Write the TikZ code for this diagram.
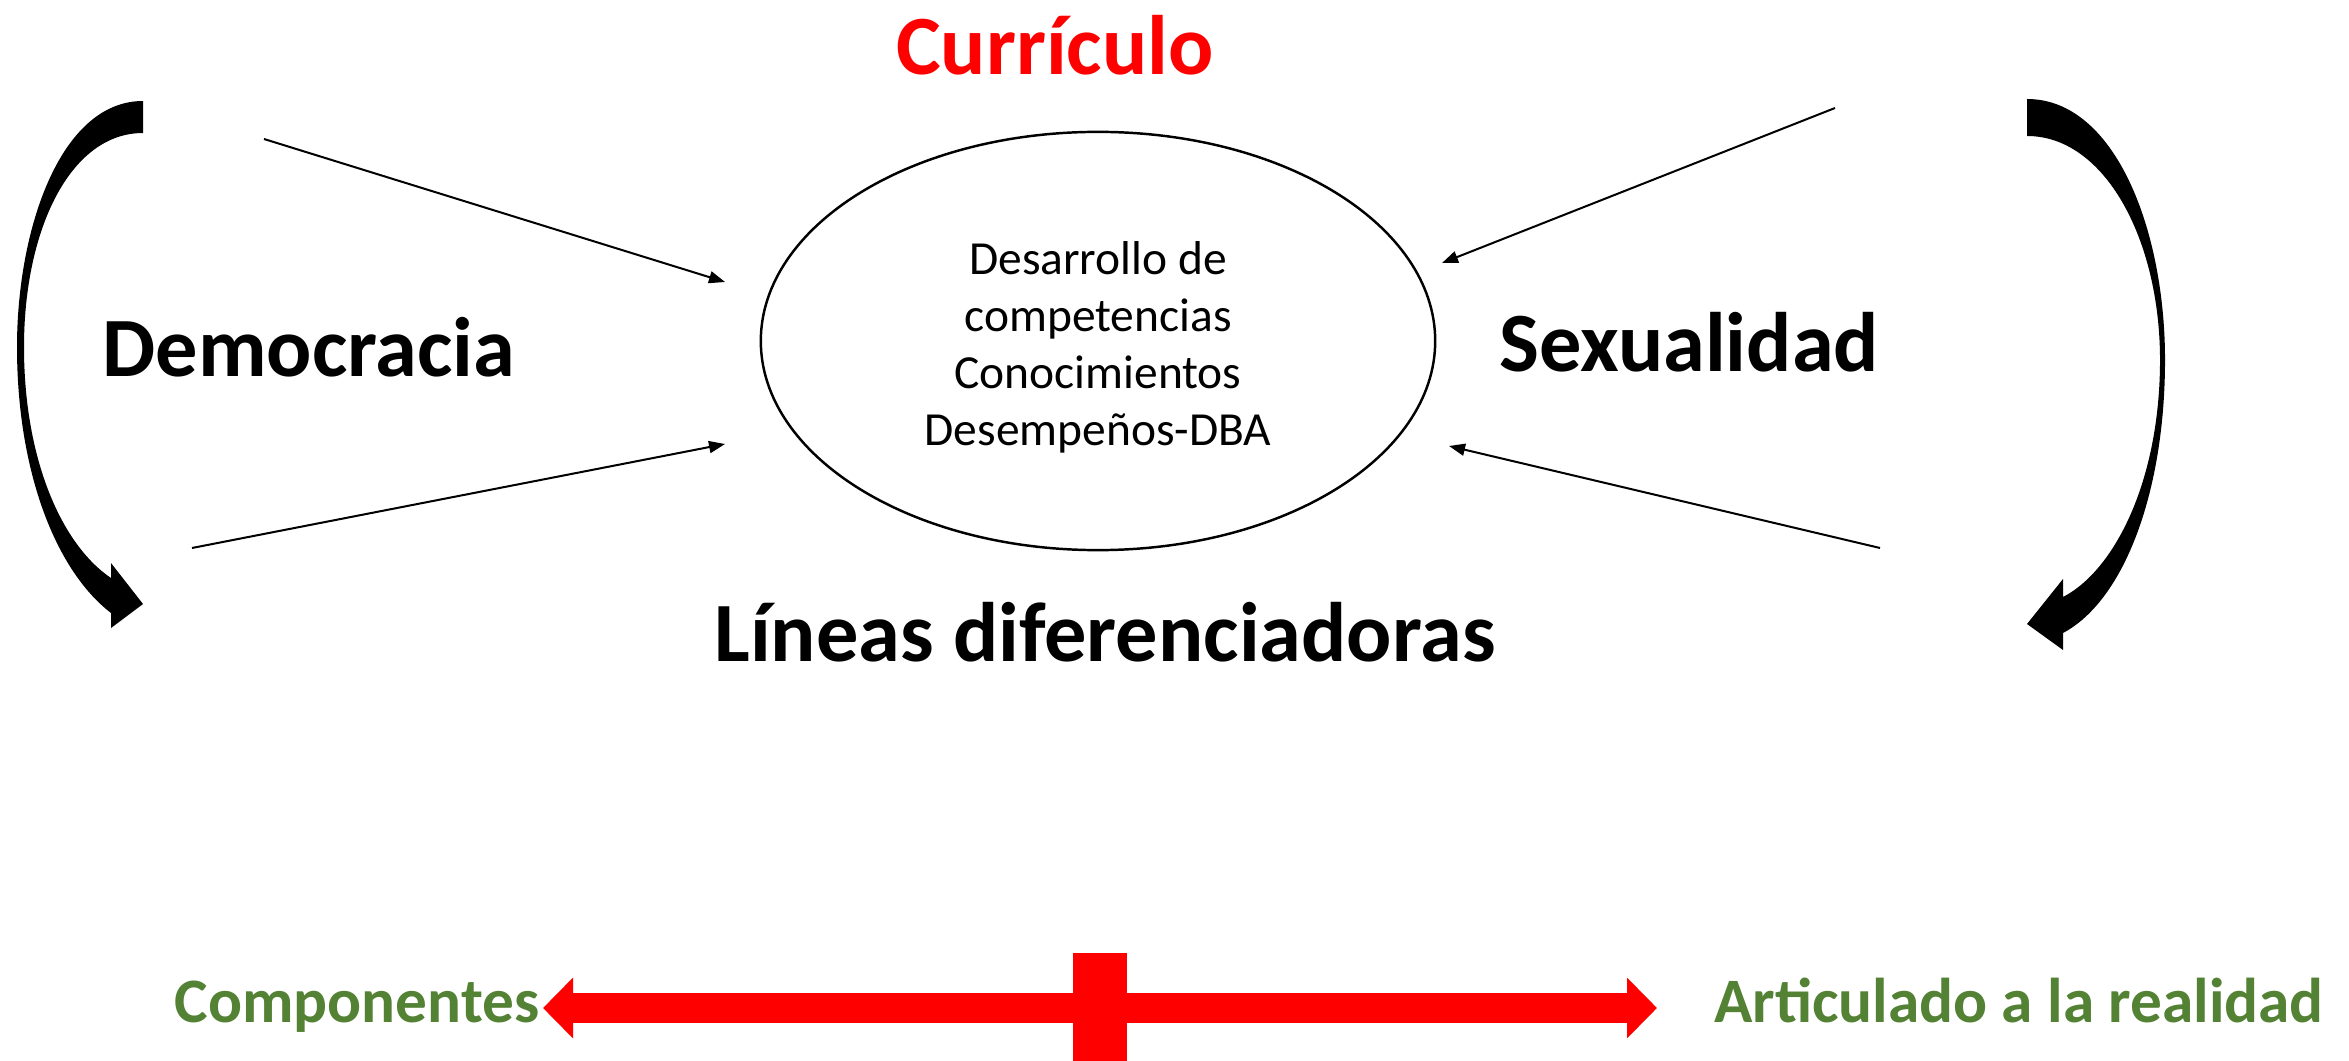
\documentclass[tikz,border=0pt]{standalone}
\usepackage{fontspec}
\setmainfont{Carlito}
\usetikzlibrary{arrows.meta,positioning,calc,shapes.geometric}
\definecolor{tagcolor}{RGB}{84,130,53}

\begin{document}
\begin{tikzpicture}[x=0.01cm,y=-0.01cm,
		title/.style={font=\bfseries\fontsize{24}{29}\selectfont},
		tag/.style={font=\bfseries\fontsize{18}{22}\selectfont, text=tagcolor, anchor=base},
		feed/.style={-{Triangle[length=0.16cm,width=0.12cm]}, line width=0.57pt}]
				\useasboundingbox (0,0) rectangle (2349,1061);
				
				% Draw centre ellipse
				\node[ellipse, draw, line width=0.7pt, minimum width=6.74cm, minimum height=4.18cm] (core) at (1098,341) {};
				\node[align=center, font=\fontsize{13.5}{16.2}\selectfont] (coretext) at (1098,347)
					{Desarrollo de\\competencias\\Conocimientos\\Desempeños-DBA};
				
				% Titles
				\node[title, text=red] (curr) at (1055,45) {Currículo};
				\node[title] (demo) at (309,347) {Democracia};
				\node[title] (sexu) at (1689,342) {Sexualidad};
				\node[title] (line) at (1105,632) {Líneas diferenciadoras};
				
				% Thin arrows
				\coordinate (lt0) at (264,139);
				\coordinate (lt1) at (725,282);
				\coordinate (lb0) at (192,548);
				\coordinate (lb1) at (725,444);
				\coordinate (rt0) at (1835,108);
				\coordinate (rt1) at (1442,263);
				\coordinate (rb0) at (1880,548);
				\coordinate (rb1) at (1449,446);
				\draw[feed] (lt0) -- (lt1);
				\draw[feed] (lb0) -- (lb1);
				\draw[feed] (rt0) -- (rt1);
				\draw[feed] (rb0) -- (rb1);
				
				% Curved block arrows
				\fill (143,101) .. controls (60,101) and (17,230) .. (17,347)
					.. controls (17,470) and (55,570) .. (111,613)
					-- (111,628) -- (143,604) -- (111,563) -- (111,578)
					.. controls (62,545) and (24,460) .. (24,347)
					.. controls (24,230) and (70,133) .. (143,133) -- cycle;
				\fill (2027,99) .. controls (2115,99) and (2165,230) .. (2165,360)
					.. controls (2165,490) and (2125,600) .. (2063,633)
					-- (2063,650) -- (2027,624) -- (2063,579) -- (2063,597)
					.. controls (2115,570) and (2160,480) .. (2160,360)
					.. controls (2160,240) and (2105,136) .. (2027,136) -- cycle;
				
				% Bottom axis
				\node[tag] (comp) at (357,1022) {Componentes};
				\node[tag] (arti) at (2019,1022) {Articulado a la realidad};
				\coordinate (ax0) at (543,1008);
				\coordinate (ax1) at (1657,1008);
				\draw[red, line width=0.30cm, {Triangle[length=0.30cm,width=0.59cm]}-{Triangle[length=0.30cm,width=0.59cm]}] (ax0) -- (ax1);
				\fill[red] (1073,953) rectangle (1127,1061);
				
			\end{tikzpicture}
\end{document}
